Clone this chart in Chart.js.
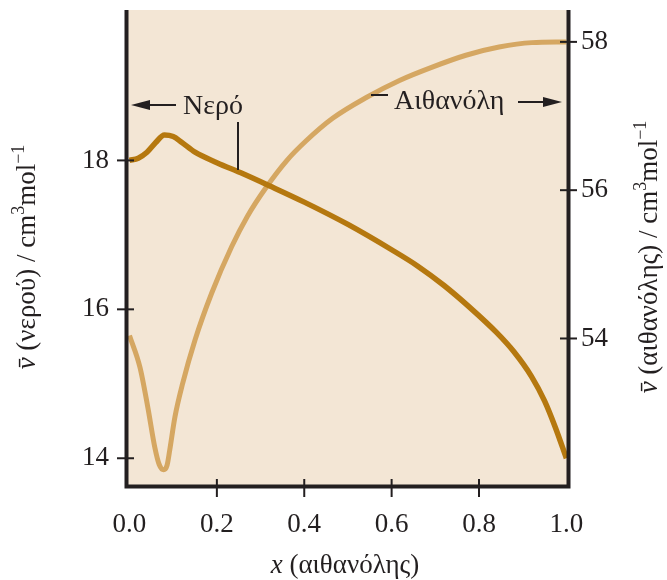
<!DOCTYPE html>
<html>
<head>
<meta charset="utf-8">
<script src="https://cdn.jsdelivr.net/npm/chart.js@4.4.1/dist/chart.umd.min.js"></script>
<style>
  body { margin: 0; background: #fff; }
  #wrap { width: 667px; height: 580px; }
</style>
</head>
<body>
<div id="wrap"><canvas id="molarChart" width="667" height="580"></canvas></div>
<script>
// mole fraction of ethanol and partial molar volumes (cm3/mol)
const xWater = [0, 0.02, 0.04, 0.06, 0.08, 0.1, 0.12, 0.15, 0.2, 0.26, 0.32, 0.4, 0.5, 0.6, 0.66, 0.72, 0.78, 0.84, 0.88, 0.92, 0.95, 0.975, 1.0];
const vWater = [18.0, 18.03, 18.11, 18.24, 18.34, 18.32, 18.24, 18.11, 17.97, 17.82, 17.66, 17.44, 17.14, 16.80, 16.58, 16.32, 16.02, 15.69, 15.43, 15.10, 14.77, 14.41, 14.0];

const xEthanol = [0, 0.024, 0.042, 0.058, 0.068, 0.078, 0.086, 0.092, 0.104, 0.122, 0.15, 0.188, 0.234, 0.27, 0.313, 0.36, 0.405, 0.465, 0.542, 0.618, 0.693, 0.77, 0.846, 0.921, 1.0];
const vEthanol = [54.04, 53.61, 53.07, 52.53, 52.3, 52.23, 52.29, 52.49, 52.94, 53.40, 53.98, 54.61, 55.24, 55.65, 56.04, 56.40, 56.67, 56.97, 57.25, 57.48, 57.66, 57.82, 57.93, 57.99, 58.0];

const xTicks = [0, 0.2, 0.4, 0.6, 0.8, 1.0];
const waterTicks = [14, 16, 18];
const ethanolTicks = [54, 56, 58];

const waterLabel = "Νερό";
const ethanolLabel = "Αιθανόλη";

const INK = "#231f20";
const FONT = "'Liberation Serif', 'DejaVu Serif', serif";

function drawRich(ctx, parts, x, y, size) {
  // parts: [text, style]  style: '' | 'i' | 'sup'
  const fontOf = s => (s === 'i' ? 'italic ' : '') + Math.round(s === 'sup' ? size * 0.66 : size) + 'px ' + FONT;
  let total = 0;
  parts.forEach(p => { ctx.font = fontOf(p[1]); total += ctx.measureText(p[0]).width; });
  let cx = x - total / 2;
  ctx.textAlign = 'left';
  ctx.textBaseline = 'alphabetic';
  parts.forEach(p => {
    ctx.font = fontOf(p[1]);
    const dy = p[1] === 'sup' ? -size * 0.4 : 0;
    ctx.fillText(p[0], cx, y + dy);
    cx += ctx.measureText(p[0]).width;
  });
}

function arrow(ctx, x1, tip, y) {
  const dir = tip > x1 ? 1 : -1;
  ctx.beginPath();
  ctx.moveTo(x1, y);
  ctx.lineTo(tip - dir * 12, y);
  ctx.stroke();
  ctx.beginPath();
  ctx.moveTo(tip, y);
  ctx.lineTo(tip - dir * 19, y - 5);
  ctx.lineTo(tip - dir * 19, y + 5);
  ctx.closePath();
  ctx.fill();
}

const decor = {
  id: 'decor',
  beforeDraw(chart) {
    const { ctx, chartArea: ca } = chart;
    ctx.save();
    ctx.fillStyle = '#f3e6d5';
    ctx.fillRect(ca.left, ca.top, ca.right - ca.left, ca.bottom - ca.top);
    ctx.restore();
  },
  afterDraw(chart) {
    const { ctx, chartArea: ca, scales } = chart;
    ctx.save();
    ctx.strokeStyle = INK;
    ctx.fillStyle = INK;

    // frame: left, bottom, right
    ctx.lineWidth = 4;
    ctx.lineJoin = 'miter';
    ctx.beginPath();
    ctx.moveTo(ca.left + 0.5, ca.top);
    ctx.lineTo(ca.left + 0.5, ca.bottom - 0.5);
    ctx.lineTo(ca.right - 0.5, ca.bottom - 0.5);
    ctx.lineTo(ca.right - 0.5, ca.top);
    ctx.stroke();

    // tick marks crossing the axes
    ctx.lineWidth = 2;
    waterTicks.forEach(v => {
      const y = scales.y.getPixelForValue(v);
      ctx.beginPath(); ctx.moveTo(ca.left - 9, y); ctx.lineTo(ca.left + 8, y); ctx.stroke();
    });
    ethanolTicks.forEach(v => {
      const y = scales.y2.getPixelForValue(v);
      ctx.beginPath(); ctx.moveTo(ca.right - 9, y); ctx.lineTo(ca.right + 8, y); ctx.stroke();
    });
    xTicks.slice(1, -1).forEach(v => {
      const x = scales.x.getPixelForValue(v);
      ctx.beginPath(); ctx.moveTo(x, ca.bottom - 8); ctx.lineTo(x, ca.bottom + 10); ctx.stroke();
    });

    // curve labels
    ctx.font = '28px ' + FONT;
    ctx.textAlign = 'left';
    ctx.textBaseline = 'alphabetic';
    ctx.fillText(waterLabel, 183, 114);
    arrow(ctx, 176, 131, 105);
    ctx.beginPath(); ctx.moveTo(238, 122); ctx.lineTo(238, 170); ctx.stroke();

    ctx.fillText(ethanolLabel, 394, 109);
    ctx.beginPath(); ctx.moveTo(371, 95); ctx.lineTo(388, 95); ctx.stroke();
    arrow(ctx, 518, 562, 102);

    // axis titles
    drawRich(ctx, [['x', 'i'], [' (αιθανόλης)', '']], 345, 573, 27);

    ctx.save();
    ctx.translate(35, 257);
    ctx.rotate(-Math.PI / 2);
    drawRich(ctx, [['v\u0304', 'i'], [' (νερού) / cm', ''], ['3', 'sup'], ['mol', ''], ['\u22121', 'sup']], 0, 0, 27);
    ctx.restore();

    ctx.save();
    ctx.translate(657, 257);
    ctx.rotate(-Math.PI / 2);
    drawRich(ctx, [['v\u0304', 'i'], [' (αιθανόλης) / cm', ''], ['3', 'sup'], ['mol', ''], ['\u22121', 'sup']], 0, 0, 27);
    ctx.restore();

    ctx.restore();
  }
};

const tickFont = { family: FONT, size: 27 };

// keep the plot area where the reference has it: no label overhang padding
function noOverhang(s) {
  s.paddingTop = 0;
  s.paddingBottom = 0;
  s.paddingLeft = 0;
  s.paddingRight = 0;
}

const ctx = document.getElementById('molarChart').getContext('2d');
const molarChart = new Chart(ctx, {
  type: 'line',
  data: {
    datasets: [
      {
        label: waterLabel,
        data: xWater.map((x, i) => ({ x: x, y: vWater[i] })),
        yAxisID: 'y',
        borderColor: '#b5780f',
        borderWidth: 5.5,
        order: 0
      },
      {
        label: ethanolLabel,
        data: xEthanol.map((x, i) => ({ x: x, y: vEthanol[i] })),
        yAxisID: 'y2',
        borderColor: '#d5a762',
        borderWidth: 5,
        order: 1
      }
    ]
  },
  options: {
    responsive: false,
    animation: false,
    layout: { padding: { top: 10, left: 0, right: 0, bottom: 0 } },
    elements: {
      point: { radius: 0 },
      line: { cubicInterpolationMode: 'monotone', fill: false }
    },
    plugins: { legend: { display: false }, tooltip: { enabled: false } },
    scales: {
      x: {
        type: 'linear',
        min: -0.008,
        max: 1.006,
        afterBuildTicks: s => { s.ticks = xTicks.map(v => ({ value: v })); },
        afterFit: s => { s.height = 93; noOverhang(s); },
        grid: { display: false, drawTicks: false },
        border: { display: false },
        ticks: { font: tickFont, color: INK, padding: 22, maxRotation: 0, callback: v => v.toFixed(1) }
      },
      y: {
        type: 'linear',
        position: 'left',
        min: 13.614,
        max: 20.02,
        afterBuildTicks: s => { s.ticks = waterTicks.map(v => ({ value: v })); },
        afterFit: s => { s.width = 126; noOverhang(s); },
        grid: { display: false, drawTicks: false },
        border: { display: false },
        ticks: { font: tickFont, color: INK, padding: 17 }
      },
      y2: {
        type: 'linear',
        position: 'right',
        min: 51.997,
        max: 58.43,
        afterBuildTicks: s => { s.ticks = ethanolTicks.map(v => ({ value: v })); },
        afterFit: s => { s.width = 98; noOverhang(s); },
        grid: { display: false, drawTicks: false },
        border: { display: false },
        ticks: { font: tickFont, color: INK, padding: 12 }
      }
    }
  },
  plugins: [decor]
});
</script>
</body>
</html>
